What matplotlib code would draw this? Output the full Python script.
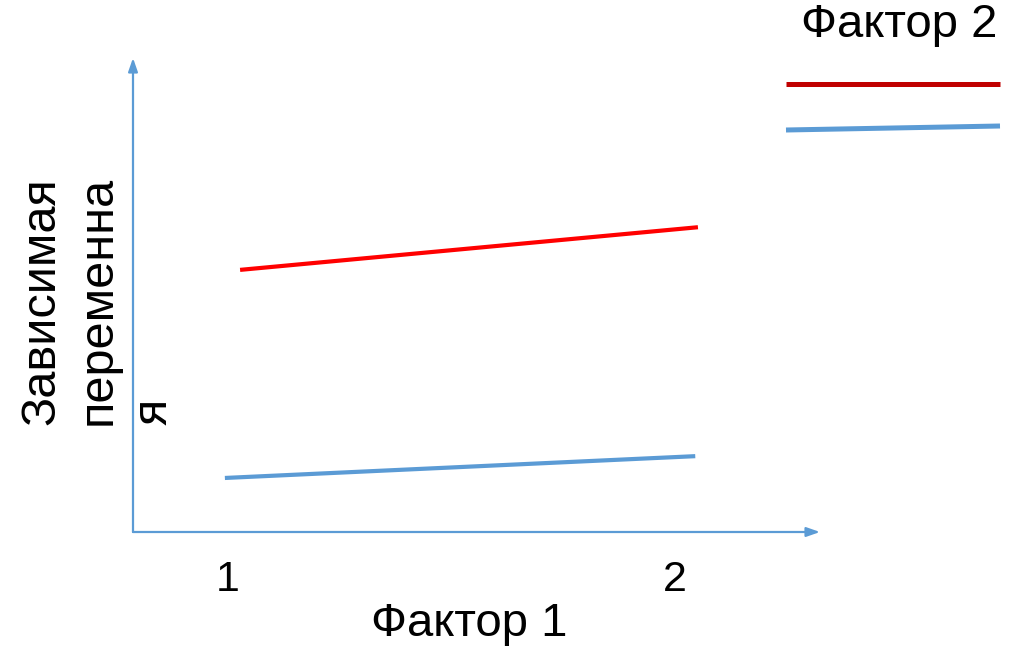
import matplotlib
matplotlib.use("Agg")
import matplotlib.pyplot as plt
from matplotlib.lines import Line2D

plt.rcParams['font.family'] = ['Liberation Sans', 'DejaVu Sans']

# factor 1 levels and tick labels
factor1_levels = [1, 2]
factor1_labels = ["1", "2"]

# dependent variable for each level of factor 2
red_x = [1.027, 2.051]
red_y = [5.53, 6.43]
blue_x = [0.993, 2.045]
blue_y = [1.14, 1.60]

x_title = "Фактор 1"
y_title = "Зависимая\nпеременна\nя"
legend_title = "Фактор 2"

AXIS_BLUE = "#5B9BD5"
W, H = 1026, 663

fig = plt.figure(figsize=(W / 100, H / 100), dpi=100)
# axes box in pixels: x 133..820, y 58..532 (from top)
ax = fig.add_axes([133 / W, 1 - 532 / H, (820 - 133) / W, (532 - 58) / H])
ax.set_xlim(0.7875, 2.324)
ax.set_ylim(0, 10)
for s in ax.spines.values():
    s.set_visible(False)
ax.set_yticks([])
ax.set_xticks(factor1_levels)
ax.set_xticklabels(factor1_labels, fontsize=31)
ax.tick_params(axis='x', length=0, pad=20)

# arrowed axes
arrow = dict(arrowstyle="-|>,head_length=0.8,head_width=0.28",
             color=AXIS_BLUE, lw=1.6, shrinkA=0, shrinkB=0)
ax.annotate("", xy=(0, 1), xytext=(0, 0), xycoords='axes fraction', arrowprops=arrow)
ax.annotate("", xy=(1, 0), xytext=(0, 0), xycoords='axes fraction', arrowprops=arrow)

ax.plot(red_x, red_y, color="#FF0000", lw=3, solid_capstyle='butt')
ax.plot(blue_x, blue_y, color=AXIS_BLUE, lw=3, solid_capstyle='butt')

fig.text(469 / W, 1 - 624 / H, x_title, fontsize=34, ha='center', va='center')
fig.text(19 / W, 1 - 425 / H, y_title, fontsize=35, rotation=90,
         ha='left', va='bottom', linespacing=1.33, multialignment='left')

# legend drawn by hand
fig.text(899 / W, 1 - 25 / H, legend_title, fontsize=34, ha='center', va='center')
fig.add_artist(Line2D([786 / W, 1000 / W], [1 - 84 / H, 1 - 84 / H],
                      color="#C00000", lw=3.6, solid_capstyle='butt'))
fig.add_artist(Line2D([786 / W, 1000 / W], [1 - 130 / H, 1 - 126 / H],
                      color=AXIS_BLUE, lw=3.6, solid_capstyle='butt'))

fig.savefig("out.png", dpi=100)
